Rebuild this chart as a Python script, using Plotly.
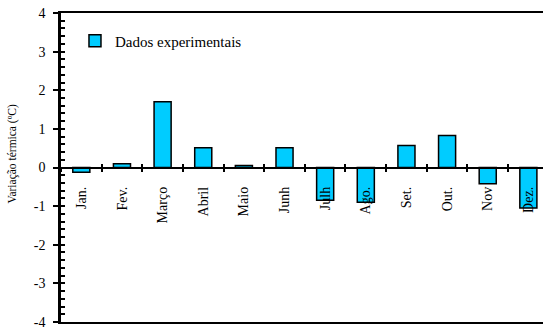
import plotly.graph_objects as go

# Monthly thermal variation (experimental data)
meses = ["Jan.", "Fev.", "Março", "Abril", "Maio", "Junh",
         "Julh", "Ago.", "Set.", "Out.", "Nov", "Dez."]
variacao = [-0.12, 0.10, 1.70, 0.51, 0.05, 0.51,
            -0.85, -0.90, 0.57, 0.83, -0.42, -1.05]
y_ticks = [-4, -3, -2, -1, 0, 1, 2, 3, 4]

SERIF = "Liberation Serif"
CYAN = "#00CCFF"

fig = go.Figure()

fig.add_trace(go.Bar(
    x=meses, y=variacao, name="Dados experimentais",
    width=0.42,
    marker=dict(color=CYAN, line=dict(color="black", width=1.5)),
    xaxis="x", yaxis="y",
))

# empty companion traces so the helper axes get drawn
fig.add_trace(go.Scatter(
    x=meses, y=[None] * len(meses), xaxis="x2", yaxis="y",
    mode="markers", showlegend=False, hoverinfo="skip",
))
fig.add_trace(go.Scatter(
    x=[None], y=[None], xaxis="x3", yaxis="y2",
    mode="markers", showlegend=False, hoverinfo="skip",
))

x_range = [-0.5, 11.36]

fig.update_layout(
    width=543, height=329,
    margin=dict(l=61, r=0, t=13, b=7),
    paper_bgcolor="white", plot_bgcolor="white",
    font=dict(family=SERIF, color="black", size=14),
    showlegend=True,
    legend=dict(x=0.029, y=0.963, xanchor="left", yanchor="top",
                bgcolor="rgba(0,0,0,0)",
                font=dict(size=15, family=SERIF, color="black")),
    # category axis sitting on the zero line, labels below it
    xaxis=dict(
        type="category", range=x_range,
        anchor="free", position=0.5,
        showline=True, linecolor="black", linewidth=1.5,
        ticks="outside", ticklen=4, tickwidth=1.5, tickcolor="black",
        tickson="boundaries", tickangle=-90, ticklabelstandoff=13,
        tickfont=dict(size=14, family=SERIF, color="black"),
        showgrid=False, zeroline=False,
    ),
    # upward half of the category ticks
    xaxis2=dict(
        type="category", overlaying="x", matches="x",
        anchor="free", position=0.5,
        showline=False, ticks="inside", ticklen=4, tickwidth=1.5,
        tickcolor="black", tickson="boundaries",
        showticklabels=False, showgrid=False, zeroline=False,
    ),
    # top and bottom frame lines
    xaxis3=dict(
        overlaying="x", anchor="y2", range=[0, 1],
        showline=True, mirror=True, linecolor="black", linewidth=2,
        ticks="", showticklabels=False, showgrid=False, zeroline=False,
    ),
    yaxis=dict(
        range=[-4, 4], tickvals=y_ticks,
        ticktext=[str(v) for v in y_ticks],
        showline=True, linecolor="black", linewidth=2.5,
        ticks="outside", ticklen=5, tickwidth=1.5, tickcolor="black",
        ticklabelstandoff=5,
        tickfont=dict(size=14, family=SERIF, color="black"),
        ticklabeloverflow="allow",
        showgrid=False, zeroline=False,
    ),
    # fine inner ticks every 0.2
    yaxis2=dict(
        overlaying="y", matches="y", anchor="x3",
        ticks="inside", dtick=0.2, tick0=0, ticklen=4, tickwidth=1.5,
        tickcolor="black", showticklabels=False, showline=False,
        showgrid=False, zeroline=False,
    ),
)

fig.add_annotation(
    text="Variação térmica (ºC)", textangle=-90,
    xref="paper", x=0, xanchor="center", xshift=-48,
    yref="y", y=0.36, yanchor="middle",
    showarrow=False, font=dict(family=SERIF, size=11.5, color="black"),
)

fig.write_html("out.html")
